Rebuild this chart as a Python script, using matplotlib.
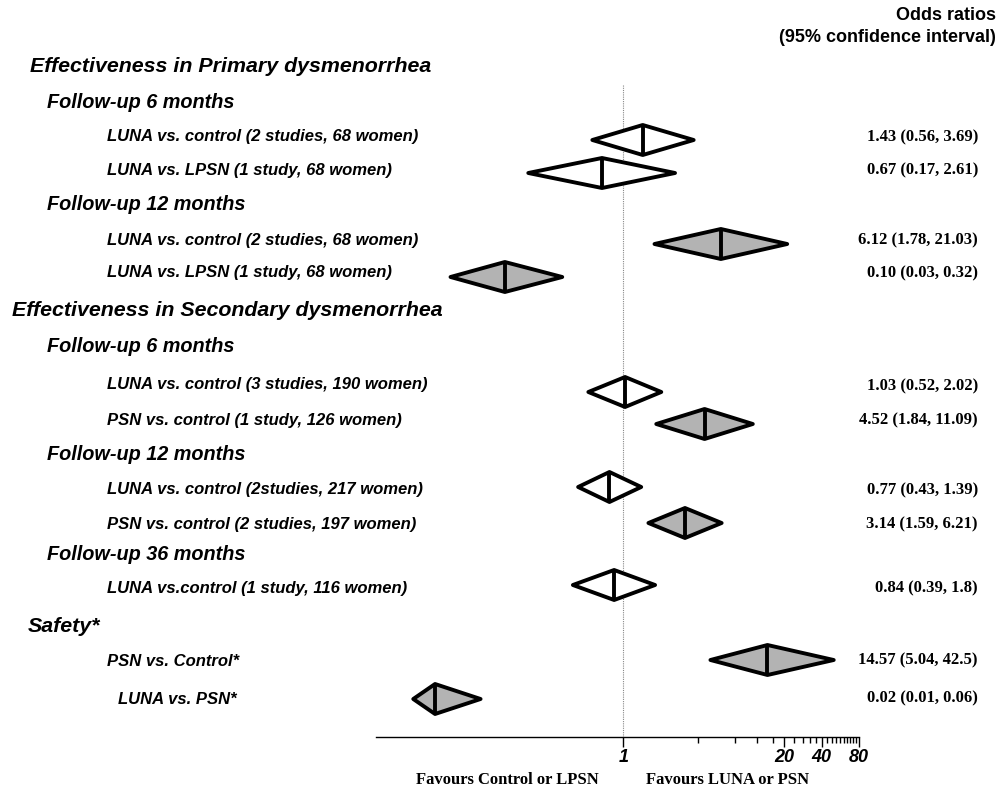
import matplotlib
matplotlib.use("Agg")
import matplotlib.pyplot as plt
from matplotlib.ticker import FixedLocator, NullFormatter

# data
comparisons = [
    "LUNA vs. control (2 studies, 68 women)",
    "LUNA vs. LPSN (1 study, 68 women)",
    "LUNA vs. control (2 studies, 68 women)",
    "LUNA vs. LPSN (1 study, 68 women)",
    "LUNA vs. control (3 studies, 190 women)",
    "PSN vs. control (1 study, 126 women)",
    "LUNA vs. control (2studies, 217 women)",
    "PSN vs. control (2 studies, 197 women)",
    "LUNA vs.control (1 study, 116 women)",
    "PSN vs. Control*",
    "LUNA vs. PSN*",
]
# diamond positions
odds = [1.43, 0.67, 6.12, 0.11, 1.03, 4.52, 0.77, 3.14, 0.84, 14.57, 0.03]
ci_low = [0.56, 0.17, 1.78, 0.04, 0.52, 1.84, 0.43, 1.59, 0.39, 5.04, 0.02]
ci_high = [3.69, 2.61, 21.03, 0.32, 2.02, 11.09, 1.39, 6.21, 1.8, 50, 0.07]
ci_text = ["1.43 (0.56, 3.69)", "0.67 (0.17, 2.61)", "6.12 (1.78, 21.03)",
           "0.10 (0.03, 0.32)", "1.03 (0.52, 2.02)", "4.52 (1.84, 11.09)",
           "0.77 (0.43, 1.39)", "3.14 (1.59, 6.21)", "0.84 (0.39, 1.8)",
           "14.57 (5.04, 42.5)", "0.02 (0.01, 0.06)"]
significant = [False, False, True, True, False, True, False, True, False, True, True]

headings = ["Effectiveness in Primary dysmenorrhea", "Follow-up 6 months",
            "Follow-up 12 months", "Effectiveness in Secondary dysmenorrhea",
            "Follow-up 6 months", "Follow-up 12 months", "Follow-up 36 months",
            "Safety*"]
tick_vals = [1, 20, 40, 80]

# layout (pixels from top)
W, H = 1001, 787
diamond_y = [140, 173, 244, 277, 392, 424, 487, 523, 585, 660, 699]
label_y = [136, 170, 241, 273, 384, 421, 490, 524, 588, 661, 699]
label_x = [107] * 10 + [118]
right_y = [137, 170, 240, 273, 386, 420, 490, 524, 588, 660, 698]
head_x = [30, 47, 47, 12, 47, 47, 47, 28]
head_y = [67, 102, 205, 311, 347, 454, 555, 627]
head_size = [15.4, 14.3, 14.3, 15.4, 14.3, 14.3, 14.3, 15.4]

fig = plt.figure(figsize=(W / 100, H / 100), dpi=100)
ax = fig.add_axes([376 / W, 0, (859 - 376) / W, 1])
ax.set_xscale("log")
ax.set_xlim(0.01, 80)
ax.set_ylim(H, 0)
ax.patch.set_visible(False)

for s in ["left", "right", "top"]:
    ax.spines[s].set_visible(False)
ax.spines["bottom"].set_position(("data", 737))
ax.spines["bottom"].set_linewidth(1.0)
ax.yaxis.set_visible(False)

ax.xaxis.set_major_locator(FixedLocator(tick_vals))
ax.set_xticklabels([str(v) for v in tick_vals], fontsize=13, fontweight="bold",
                   fontstyle="italic", family="Liberation Sans")
minor = [v for v in range(4, 80, 4) if v not in tick_vals]
ax.xaxis.set_minor_locator(FixedLocator(minor))
ax.xaxis.set_minor_formatter(NullFormatter())
ax.tick_params(axis="x", which="major", length=7, width=1, pad=2)
ax.tick_params(axis="x", which="minor", length=4, width=1)

# line of no effect
ax.plot([1, 1], [85, 737], color="#888888", lw=0.8, ls=(0, (1, 1)), zorder=1)

h = 15
for i in range(len(odds)):
    y = diamond_y[i]
    fc = "#b3b3b3" if significant[i] else "white"
    ax.fill([ci_low[i], odds[i], ci_high[i], odds[i]], [y, y - h, y, y + h],
            facecolor=fc, edgecolor="black", lw=2.8, joinstyle="round", zorder=3)
    ax.plot([odds[i], odds[i]], [y - h, y + h], color="black", lw=2.8,
            solid_capstyle="butt", zorder=4)

    fig.text(label_x[i] / W, 1 - label_y[i] / H, comparisons[i], fontsize=12,
             fontweight="bold", fontstyle="italic", family="Liberation Sans",
             va="center", ha="left")
    fig.text(978 / W, 1 - right_y[i] / H, ci_text[i], fontsize=12,
             fontweight="bold", family="Liberation Serif", va="center", ha="right")

for i in range(len(headings)):
    fig.text(head_x[i] / W, 1 - head_y[i] / H, headings[i], fontsize=head_size[i],
             fontweight="bold", fontstyle="italic", family="Liberation Sans",
             va="center", ha="left")

fig.text(996 / W, 1 - 15 / H, "Odds ratios", fontsize=13, fontweight="bold",
         family="Liberation Sans", va="center", ha="right")
fig.text(996 / W, 1 - 37 / H, "(95% confidence interval)", fontsize=13,
         fontweight="bold", family="Liberation Sans", va="center", ha="right")

fig.text(507 / W, 1 - 780 / H, "Favours Control or LPSN", fontsize=12,
         fontweight="bold", family="Liberation Serif", va="center", ha="center")
fig.text(728 / W, 1 - 780 / H, "Favours LUNA or PSN", fontsize=12,
         fontweight="bold", family="Liberation Serif", va="center", ha="center")

fig.savefig("out.png", dpi=100)
